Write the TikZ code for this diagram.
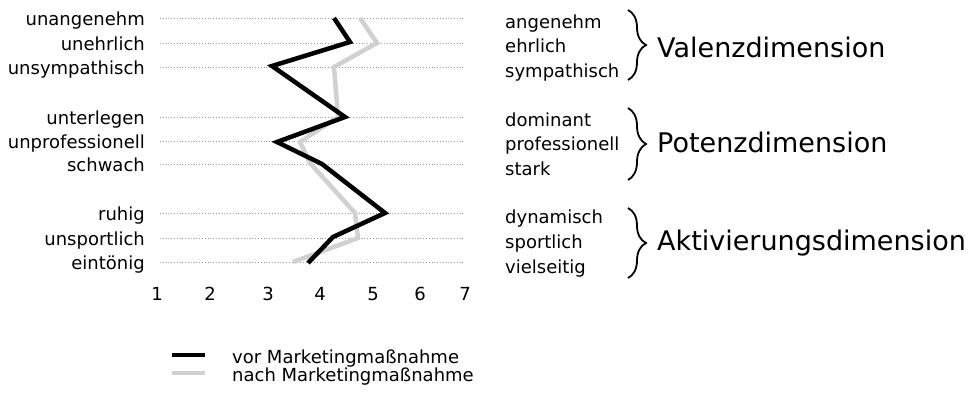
\documentclass[tikz,border=0pt]{standalone}
\usepackage{fontspec}
\setmainfont{DejaVu Sans}
\usetikzlibrary{decorations.pathreplacing}
\begin{document}
\begin{tikzpicture}[x=1pt,y=-1pt,
  lbl/.style={font=\fontsize{18}{18}\selectfont,inner sep=0pt},
  big/.style={font=\fontsize{27}{27}\selectfont,inner sep=0pt,anchor=base west},
  grid/.style={draw=black!40,line width=0.8pt,dotted},
  vor/.style={draw=black,line width=4.5pt},
  nach/.style={draw=black!18,line width=4.5pt},
  br/.style={draw=black,line width=1.8pt,decorate,decoration={brace,amplitude=18pt}}]
\useasboundingbox (0,0) rectangle (970,394);
% left labels and dotted grid lines
\foreach \n/\t/\y in {a/unangenehm/18,b/unehrlich/43,c/unsympathisch/67,
  d/unterlegen/117,e/unprofessionell/141,f/schwach/164,
  g/ruhig/213,h/unsportlich/238,i/eintönig/262}{
  \node[lbl,anchor=base east] (L\n) at (145,\y+7) {\t};
  \coordinate (G\n s) at (160,\y);
  \coordinate (G\n e) at (465,\y);
  \draw[grid] (G\n s) -- (G\n e);
}
% axis numbers
\foreach \v/\x in {1/157,2/210,3/268,4/320,5/373,6/420,7/465}{
  \node[lbl,anchor=base] (N\v) at (\x,300) {\v};
}
% data points
\coordinate (B1) at (334,18);
\coordinate (B2) at (350,42);
\coordinate (B3) at (272,66);
\coordinate (B4) at (345,117);
\coordinate (B5) at (277,142);
\coordinate (B6) at (322,164);
\coordinate (B7) at (385,213);
\coordinate (B8) at (333,237);
\coordinate (B9) at (308,263);
\coordinate (C1) at (360,18);
\coordinate (C2) at (377,43);
\coordinate (C3) at (334,67);
\coordinate (C4) at (338,117);
\coordinate (C5) at (300,142);
\coordinate (C6) at (310,163);
\coordinate (C7) at (355,213);
\coordinate (C8) at (358,238);
\coordinate (C9) at (293,262);
\draw[nach] (C1) -- (C2) -- (C3) -- (C4) -- (C5) -- (C6) -- (C7) -- (C8) -- (C9);
\draw[vor] (B1) -- (B2) -- (B3) -- (B4) -- (B5) -- (B6) -- (B7) -- (B8) -- (B9);
% right labels
\node[lbl,anchor=base west] (R1) at (505,28) {angenehm};
\node[lbl,anchor=base west] (R2) at (505,52.5) {ehrlich};
\node[lbl,anchor=base west] (R3) at (505,77) {sympathisch};
\node[lbl,anchor=base west] (R4) at (505,126) {dominant};
\node[lbl,anchor=base west] (R5) at (505,150) {professionell};
\node[lbl,anchor=base west] (R6) at (505,175) {stark};
\node[lbl,anchor=base west] (R7) at (505,223) {dynamisch};
\node[lbl,anchor=base west] (R8) at (505,248) {sportlich};
\node[lbl,anchor=base west] (R9) at (505,273) {vielseitig};
% braces
\coordinate (T1) at (628,10); \coordinate (E1) at (628,80);
\coordinate (T2) at (628,108); \coordinate (E2) at (628,180);
\coordinate (T3) at (628,208); \coordinate (E3) at (628,278);
\draw[br] (T1) -- (E1);
\draw[br] (T2) -- (E2);
\draw[br] (T3) -- (E3);
\node[big] (D1) at (657,57) {Valenzdimension};
\node[big] (D2) at (657,152) {Potenzdimension};
\node[big] (D3) at (657,250) {Aktivierungsdimension};
% legend
\coordinate (LA1) at (172,355); \coordinate (LA2) at (205,355);
\coordinate (LB1) at (172,373); \coordinate (LB2) at (205,373);
\draw[vor] (LA1) -- (LA2);
\draw[nach] (LB1) -- (LB2);
\node[lbl,anchor=base west] (LT1) at (232,363) {vor Marketingmaßnahme};
\node[lbl,anchor=base west] (LT2) at (232,381) {nach Marketingmaßnahme};
\end{tikzpicture}
\end{document}
